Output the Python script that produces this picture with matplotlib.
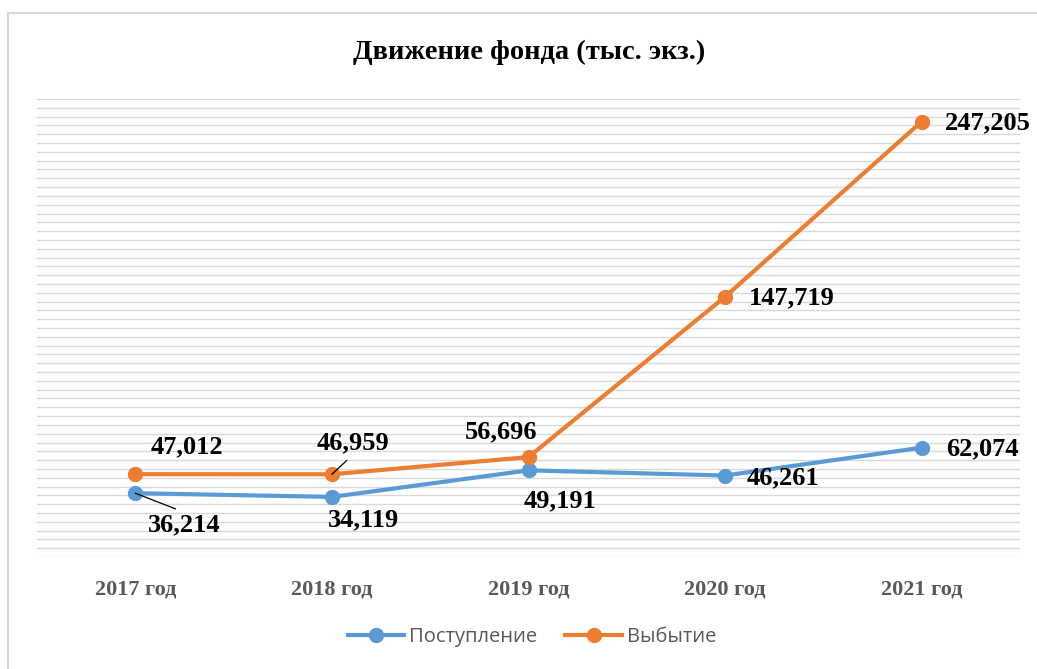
import matplotlib.pyplot as plt
from matplotlib.patches import Rectangle
import numpy as np

years = ['2017 год', '2018 год', '2019 год', '2020 год', '2021 год']
postuplenie = [36214, 34119, 49191, 46261, 62074]
vybytie = [47012, 46959, 56696, 147719, 247205]

# label offsets in pixels (dx, dy) for each point
off_post = [(49, -32), (32, -23), (32, -30), (58, -2), (61, -1)]
off_vyb = [(52, 27), (21, 31), (-27, 25), (67, -1), (66, -1)]

blue = '#5B9BD5'
orange = '#ED7D31'
serif = ['Liberation Serif', 'DejaVu Serif']

fig = plt.figure(figsize=(10.37, 6.69), dpi=100)
W, H = 1037, 669
ax = fig.add_axes([37 / W, (H - 557) / H, (1020 - 37) / W, (557 - 99) / H])

# chart frame (only top/left visible in the picture)
fig.patches.append(Rectangle((8 / W, -0.1), 1.2, 1.1 - 13 / H,
                             transform=fig.transFigure, fill=False,
                             edgecolor='#d9d9d9', lw=1.5, zorder=0))

x = np.arange(len(years))
ax.set_xlim(-0.5, len(years) - 0.5)
ax.set_ylim(0, 260000)
ax.set_yticks(np.arange(0, 260001, 5000))
ax.yaxis.grid(True, color='#d9d9d9', lw=1.0)
ax.set_axisbelow(True)
ax.tick_params(axis='y', left=False, labelleft=False)
ax.tick_params(axis='x', bottom=False, pad=13)
for s in ax.spines.values():
    s.set_visible(False)
ax.set_xticks(x)
ax.set_xticklabels(years, family=serif, fontweight='bold', fontsize=16,
                   color='#595959')

ax.plot(x, postuplenie, color=blue, lw=3, marker='o', markersize=10,
        label='Поступление', zorder=3)
ax.plot(x, vybytie, color=orange, lw=3, marker='o', markersize=10,
        label='Выбытие', zorder=3)


def fmt(v):
    return f'{v:,}'


for i in range(len(years)):
    for vals, offs in ((postuplenie, off_post), (vybytie, off_vyb)):
        arrow = None
        if vals is postuplenie and i == 0:
            arrow = dict(arrowstyle='-', color='black', lw=0.9,
                         shrinkA=4, shrinkB=0, relpos=(0.55, 1.0))
        if vals is vybytie and i == 1:
            arrow = dict(arrowstyle='-', color='black', lw=0.9,
                         shrinkA=3, shrinkB=0, relpos=(0.5, 0.0))
        ax.annotate(fmt(vals[i]), (x[i], vals[i]), xytext=offs[i],
                    textcoords='offset pixels', ha='center', va='center',
                    family=serif, fontweight='bold', fontsize=19,
                    color='black', arrowprops=arrow, zorder=4)

fig.text(529 / W, 1 - 52 / H, 'Движение фонда (тыс. экз.)', ha='center',
         va='center', family=serif, fontweight='bold', fontsize=20.5)

leg = fig.legend(loc='center', bbox_to_anchor=(532 / W, 1 - 637 / H), ncol=2,
                 frameon=False, prop={'family': 'Open Sans', 'size': 14.5},
                 handlelength=2.8, columnspacing=1.4, handletextpad=0.25)
for t in leg.get_texts():
    t.set_color('#595959')

fig.savefig('out.png', dpi=100)
